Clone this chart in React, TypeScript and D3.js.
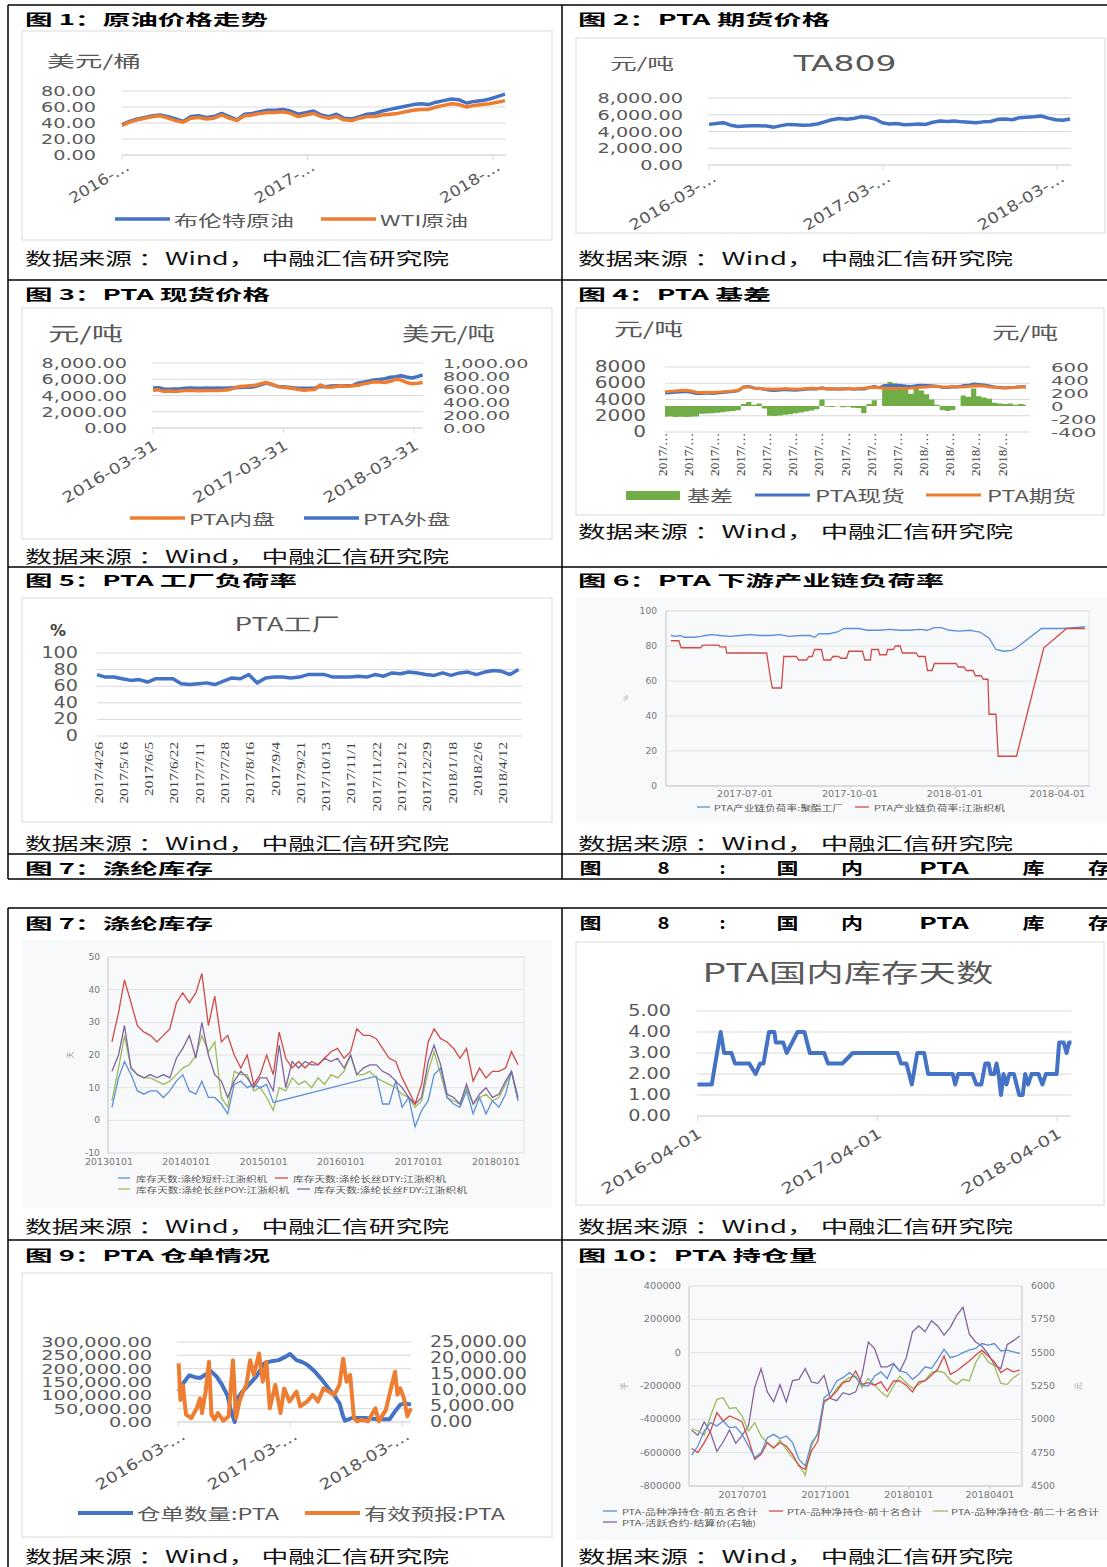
import * as d3 from "d3";

// ---------- look ----------
const CJK = "'Noto Sans CJK SC', 'Noto Sans', sans-serif";
const NUM = "'DejaVu Sans', 'Liberation Sans', sans-serif";
const SERIF = "'Liberation Serif', 'DejaVu Serif', serif";
const INK = "#595959";
const GRID = "#d9d9d9";
const BLUE = "#4472c4";
const ORANGE = "#ed7d31";
const GREEN = "#70ad47";
const W_BLUE = "#5b8fd6";
const W_RED = "#d04a48";
const W_GREEN = "#9bbb59";
const W_PURPLE = "#8064a2";
const W_BG = "#f8f9fb";
const SOURCE = "数据来源 ：Wind， 中融汇信研究院";

// ---------- fig 1: crude oil (semi-monthly, 2016-03-31 .. 2018-04-24) ----------
const brent = [38, 42, 45, 47, 49, 50, 48, 45, 42, 48, 49, 47, 48, 52, 48, 44, 51, 52, 54, 56, 56, 57, 55, 51, 53, 55, 50, 48, 51, 46, 45, 48, 51, 52, 55, 57, 59, 61, 63, 64, 63, 66, 68, 70, 69, 65, 67, 68, 70, 73, 76];
const wti = [37, 41, 44, 46, 48, 49, 46, 43, 41, 46, 47, 45, 46, 50, 46, 43, 49, 50, 52, 53, 53, 54, 52, 48, 50, 52, 48, 46, 48, 44, 43, 46, 48, 48, 50, 51, 52, 54, 56, 57, 57, 60, 62, 64, 63, 60, 62, 63, 64, 66, 68];
const oilTicks = ["2016-03-31", "2017-03-31", "2018-03-31"];
const oilTickLabels = ["2016-…", "2017-…", "2018-…"];

// ---------- fig 2: TA809 ----------
const ta809 = [4850, 4950, 5050, 4750, 4600, 4650, 4700, 4700, 4650, 4520, 4700, 4850, 4800, 4750, 4780, 4900, 5150, 5400, 5550, 5450, 5550, 5750, 5700, 5500, 5050, 4900, 4950, 4800, 4850, 4900, 4850, 5100, 5250, 5200, 5250, 5150, 5100, 5050, 5150, 5200, 5450, 5500, 5400, 5650, 5700, 5750, 5850, 5600, 5400, 5350, 5500];
const futTickLabels = ["2016-03-…", "2017-03-…", "2018-03-…"];

// ---------- fig 3: PTA spot ----------
const spotInner = [4650, 4700, 4500, 4550, 4500, 4550, 4600, 4650, 4600, 4600, 4620, 4600, 4620, 4650, 4700, 4900, 5100, 5150, 5200, 5250, 5450, 5600, 5400, 5150, 5000, 4950, 4850, 4750, 4650, 4700, 4750, 5300, 5050, 5000, 5100, 5200, 5150, 5200, 5250, 5450, 5550, 5700, 5650, 5600, 5750, 6000, 5900, 5600, 5450, 5500, 5600];
const spotOuter = [615, 620, 600, 595, 600, 605, 612, 615, 610, 612, 615, 612, 615, 612, 615, 618, 622, 625, 628, 640, 665, 690, 670, 640, 635, 628, 618, 612, 610, 612, 615, 640, 635, 645, 650, 648, 650, 652, 690, 705, 720, 740, 745, 760, 780, 790, 805, 785, 770, 790, 815];
const spotTickLabels = ["2016-03-31", "2017-03-31", "2018-03-31"];

// ---------- fig 4: PTA basis ----------
const basisLabels = ["2017/…", "2017/…", "2017/…", "2017/…", "2017/…", "2017/…", "2017/…", "2017/…", "2017/…", "2017/…", "2018/…", "2018/…", "2018/…", "2018/…"];
const basis = [-165, -160, -170, -165, -170, -165, -160, -120, -115, -110, -105, -95, -85, -75, -65, 30, 60, 20, 40, -40, -150, -155, -145, -135, -125, -110, -100, -85, -70, -50, 100, -10, -15, -5, -20, -10, -25, -30, -110, 30, 90, 0, 330, 370, 350, 340, 300, 190, 260, 240, 180, 100, 20, -60, -75, -60, 0, 160, 140, 270, 150, 130, 110, 50, 40, 30, 40, 20, 30, 20];
const ptaSpot = [4790, 4840, 4880, 4935, 4980, 4885, 4740, 4730, 4785, 4740, 4795, 4855, 4915, 4975, 5085, 5530, 5610, 5420, 5390, 5260, 5150, 5095, 5155, 5215, 5175, 5140, 5200, 5265, 5330, 5300, 5450, 5290, 5335, 5295, 5280, 5340, 5275, 5320, 5290, 5480, 5590, 5450, 5730, 5720, 5700, 5740, 5650, 5590, 5710, 5740, 5730, 5700, 5620, 5490, 5475, 5540, 5550, 5710, 5740, 5920, 5850, 5780, 5660, 5550, 5490, 5430, 5490, 5520, 5580, 5570];
const ptaFutures = [4950, 5000, 5050, 5100, 5150, 5050, 4900, 4850, 4900, 4850, 4900, 4950, 5000, 5050, 5150, 5500, 5550, 5400, 5350, 5300, 5300, 5250, 5300, 5350, 5300, 5250, 5300, 5350, 5400, 5350, 5350, 5300, 5350, 5300, 5300, 5350, 5300, 5350, 5400, 5450, 5500, 5450, 5400, 5350, 5350, 5400, 5350, 5400, 5450, 5500, 5550, 5600, 5600, 5550, 5550, 5600, 5550, 5550, 5600, 5650, 5700, 5650, 5550, 5500, 5450, 5400, 5450, 5500, 5550, 5550];

// ---------- fig 5: PTA factory load ----------
const loadLabels = ["2017/4/26", "2017/5/16", "2017/6/5", "2017/6/22", "2017/7/11", "2017/7/28", "2017/8/16", "2017/9/4", "2017/9/21", "2017/10/13", "2017/11/1", "2017/11/22", "2017/12/12", "2017/12/29", "2018/1/18", "2018/2/6", "2018/4/12"];
const factoryLoad = [74, 71, 71, 69, 67, 68, 65, 69, 69, 69, 63, 62, 63, 64, 62, 66, 70, 69, 74, 64, 70, 71, 71, 70, 71, 74, 74, 74, 71, 71, 71, 72, 71, 74, 72, 76, 75, 77, 76, 74, 73, 76, 73, 76, 77, 74, 77, 79, 78, 74, 80];

// ---------- fig 6: downstream load ----------
const polyDates = ["2017-04-27", "2017-05-01", "2017-05-05", "2017-05-09", "2017-05-18", "2017-05-23", "2017-05-27", "2017-06-02", "2017-06-09", "2017-06-18", "2017-06-27", "2017-07-05", "2017-07-14", "2017-07-23", "2017-07-31", "2017-08-09", "2017-08-18", "2017-08-27", "2017-08-31", "2017-09-04", "2017-09-13", "2017-09-20", "2017-09-26", "2017-10-09", "2017-10-16", "2017-10-27", "2017-11-05", "2017-11-13", "2017-11-22", "2017-12-01", "2017-12-08", "2017-12-14", "2017-12-20", "2017-12-27", "2018-01-05", "2018-01-14", "2018-01-18", "2018-01-23", "2018-01-31", "2018-02-06", "2018-02-13", "2018-02-20", "2018-02-24", "2018-03-18", "2018-04-07", "2018-04-16", "2018-04-25"];
const polyLoad = [86, 85.5, 86, 85, 85, 85.5, 86, 86.5, 86, 85.5, 86, 86.5, 86, 86, 86.5, 85.5, 86, 86, 85, 87, 87, 88, 90, 90, 89, 89, 89.5, 89, 89, 89.5, 89, 90.5, 90.5, 89, 88.5, 89, 88.5, 88, 84.5, 78, 77, 77.5, 79, 90, 90, 90.5, 91];
const weaveDates = ["2017-04-27", "2017-05-04", "2017-05-06", "2017-05-23", "2017-05-25", "2017-06-08", "2017-06-09", "2017-06-14", "2017-06-15", "2017-07-20", "2017-07-23", "2017-07-25", "2017-08-02", "2017-08-04", "2017-08-15", "2017-08-17", "2017-08-24", "2017-08-26", "2017-08-29", "2017-08-31", "2017-09-06", "2017-09-08", "2017-09-14", "2017-09-16", "2017-09-21", "2017-09-23", "2017-09-28", "2017-09-30", "2017-10-12", "2017-10-14", "2017-10-19", "2017-10-20", "2017-10-26", "2017-10-27", "2017-11-02", "2017-11-03", "2017-11-08", "2017-11-10", "2017-11-14", "2017-11-16", "2017-11-28", "2017-11-30", "2017-12-06", "2017-12-08", "2017-12-12", "2017-12-14", "2018-01-02", "2018-01-04", "2018-01-09", "2018-01-11", "2018-01-17", "2018-01-19", "2018-01-24", "2018-01-26", "2018-01-30", "2018-01-31", "2018-02-06", "2018-02-08", "2018-02-24", "2018-03-20", "2018-04-09", "2018-04-25"];
const weaveLoad = [83, 83, 79, 79, 80.5, 80.5, 79.5, 79.5, 76, 76, 63, 56, 56, 74, 74, 72, 72, 74, 74, 78, 78, 72, 72, 74, 74, 73, 73, 77, 77, 72, 72, 78, 78, 75, 75, 78, 78, 80, 80, 76, 76, 74, 74, 66, 66, 70, 70, 68, 68, 66, 66, 63, 63, 61, 61, 41, 41, 17, 17, 79, 90, 90];
const loadTicks = ["2017-07-01", "2017-10-01", "2018-01-01", "2018-04-01"];

// ---------- fig 7: polyester stock days (monthly from 2013-01) ----------
const stapleDays = [4, 13, 18, 14, 9, 8, 9, 9, 7, 9, 12, 14, 9, 8, 12, 7, 7, 5, 2, 11, 12, 10, 11, 10, 11, 5.5, null, null, null, null, null, null, null, null, null, null, null, null, null, null, null, 13.5, 5, 5, 12, 4, 7, -2, 3, 6, 14, 16, 7, 5, 4, 9, 2, 7, 2, 6, 4, 8, 15, 6];
const dtyDays = [24, 33, 43, 36, 29, 27, 26, 24, 26, 28, 36, 39, 36, 39, 45, 29, 38, 24, 26, 20, 16, 20, 11, 14, 20, 14, 27, 19, 16, 18, 16, 18, 17, 19, 21, 22, 19, 21, 28, 26, 26, 25, 22, 19, 18, 13, 9, 5, 11, 24, 28, 25, 24, 22, 19, 22, 12, 16, 13, 15, 15, 16, 21, 17];
const poyDays = [6, 16, 26, 16, 14, 13, 13, 12, 11, 12, 14, 16, 17, 20, 26, 21, 24, 7, 4, 15, 14, 14, 9, 10, 7, 3, 10, 9, 13, 11, 12, 10, 13, 11, 14, 13, 15, 20, 14, 14, 15, 13, 12, 11, 10, 8, 7, 4, 6, 15, 21, 14, 7, 6, 5, 10, 5, 7, 8, 6, 7, 11, 15, 6];
const fdyDays = [15, 20, 29, 16, 14, 13, 14, 13, 14, 13, 19, 22, 26, 19, 30, 20, 14, 12, 7, 12, 15, 13, 10, 13, 13, 9, 23, 10, 18, 16, 18, 17, 17, 19, 18, 19, 16, 20, 14, 16, 17, 17, 15, 14, 12, 10, 7, 5, 7, 18, 23, 17, 8, 7, 5, 11, 5, 8, 10, 7, 8, 12, 15, 7];
const stockYears = ["20130101", "20140101", "20150101", "20160101", "20170101", "20180101"];
const stockNames = ["库存天数:涤纶短纤:江浙织机", "库存天数:涤纶长丝DTY:江浙织机", "库存天数:涤纶长丝POY:江浙织机", "库存天数:涤纶长丝FDY:江浙织机"];

// ---------- fig 8: PTA stock days ----------
const ptaStockDates = ["2016-04-01", "2016-04-30", "2016-05-07", "2016-05-18", "2016-05-25", "2016-06-09", "2016-06-16", "2016-07-15", "2016-07-28", "2016-08-06", "2016-08-13", "2016-08-24", "2016-09-04", "2016-09-07", "2016-09-22", "2016-09-29", "2016-10-10", "2016-10-21", "2016-11-04", "2016-11-15", "2016-12-14", "2016-12-22", "2017-01-20", "2017-02-10", "2017-05-12", "2017-05-19", "2017-05-30", "2017-06-10", "2017-06-21", "2017-07-05", "2017-07-13", "2017-09-01", "2017-09-06", "2017-09-12", "2017-10-11", "2017-10-19", "2017-10-29", "2017-11-06", "2017-11-13", "2017-11-17", "2017-11-24", "2017-11-29", "2017-12-03", "2017-12-08", "2017-12-13", "2017-12-19", "2017-12-25", "2018-01-03", "2018-01-14", "2018-01-21", "2018-01-26", "2018-02-01", "2018-02-08", "2018-02-22", "2018-03-02", "2018-03-09", "2018-03-31", "2018-04-05", "2018-04-14", "2018-04-20", "2018-04-25", "2018-04-30"];
const ptaStockDays = [1.5, 1.5, 2.5, 4, 3, 3, 2.5, 2.5, 2, 2.5, 2.5, 4, 4, 3.5, 3.5, 3, 3.5, 4, 4, 3, 3, 2.5, 2.5, 3, 3, 2.5, 2.5, 1.5, 3, 3, 2, 2, 1.5, 2, 2, 1.5, 1.5, 2.5, 2.5, 2, 2, 2.5, 2, 1, 2, 1.5, 2, 2, 1, 1, 2, 1.5, 2, 2, 1.5, 2, 2, 3.5, 3.5, 3, 3.5, 3.5];
const stockTicks = ["2016-04-01", "2017-04-01", "2018-04-01"];

// ---------- fig 9: warrants ----------
const warrantDates = ["2016-04-02", "2016-04-20", "2016-05-07", "2016-05-25", "2016-06-11", "2016-06-29", "2016-07-17", "2016-08-04", "2016-08-21", "2016-09-08", "2016-09-20", "2016-10-02", "2016-10-06", "2016-10-24", "2016-11-21", "2016-12-14", "2017-01-06", "2017-01-30", "2017-02-22", "2017-03-17", "2017-03-31", "2017-04-21", "2017-05-09", "2017-05-26", "2017-06-19", "2017-07-12", "2017-08-04", "2017-08-22", "2017-09-08", "2017-09-20", "2017-09-26", "2017-10-19", "2017-11-29", "2018-01-14", "2018-02-18", "2018-03-08", "2018-03-25", "2018-04-11", "2018-04-29"];
const warrantQty = [114000, 150000, 175000, 168000, 165000, 178000, 190000, 170000, 140000, 100000, 40000, 0, 80000, 110000, 145000, 175000, 220000, 228000, 232000, 245000, 255000, 232000, 225000, 215000, 190000, 160000, 125000, 100000, 70000, 20000, 5000, 15000, 15000, 10000, 10000, 40000, 65000, 70000, 65000];
const forecastDates = ["2016-04-02", "2016-04-08", "2016-04-16", "2016-04-26", "2016-05-13", "2016-05-31", "2016-06-11", "2016-06-17", "2016-06-29", "2016-07-10", "2016-07-18", "2016-07-28", "2016-08-08", "2016-08-26", "2016-09-12", "2016-09-26", "2016-10-06", "2016-10-17", "2016-10-29", "2016-11-09", "2016-11-21", "2016-12-03", "2016-12-20", "2017-01-01", "2017-01-13", "2017-01-24", "2017-02-11", "2017-02-28", "2017-03-12", "2017-03-29", "2017-04-21", "2017-05-03", "2017-05-26", "2017-06-13", "2017-06-30", "2017-07-18", "2017-08-04", "2017-08-22", "2017-09-08", "2017-09-20", "2017-10-01", "2017-10-13", "2017-10-25", "2017-11-05", "2017-11-17", "2017-12-10", "2018-01-03", "2018-01-14", "2018-02-06", "2018-02-24", "2018-03-08", "2018-03-16", "2018-03-25", "2018-04-06", "2018-04-17", "2018-04-29"];
const forecastQty = [18300, 6900, 11500, 2300, 1200, 4300, 7400, 2800, 9500, 18800, 2300, 700, 2800, 400, 1800, 19300, 1200, 6400, 9500, 11600, 19300, 14700, 21400, 12600, 18800, 4300, 11600, 2800, 10500, 6400, 9500, 4900, 6400, 8500, 6400, 10500, 9500, 8500, 11600, 19800, 12600, 14700, 1200, 200, 700, 200, 4300, 200, 3800, 11000, 15700, 8500, 10500, 7400, 1800, 4300];

// ---------- fig 10: net positions (weekly from 2017-05-05) ----------
const top5Net = [-615000, -560000, -470000, -420000, -440000, -410000, -450000, -445000, -490000, -560000, -630000, -600000, -510000, -490000, -515000, -500000, -540000, -640000, -680000, -540000, -490000, -270000, -240000, -170000, -150000, -120000, -150000, -195000, -200000, -140000, -115000, -155000, -70000, -110000, -120000, -160000, -130000, -85000, -95000, -40000, 20000, -30000, -20000, 0, 15000, 25000, 55000, 45000, 55000, 10000, 15000, 5000, -5000];
const top10Net = [-575000, -600000, -540000, -470000, -360000, -410000, -380000, -395000, -415000, -520000, -640000, -610000, -540000, -570000, -540000, -560000, -610000, -680000, -700000, -590000, -530000, -290000, -270000, -230000, -180000, -170000, -110000, -190000, -180000, -195000, -175000, -230000, -170000, -170000, -195000, -235000, -175000, -170000, -135000, -100000, -20000, -130000, -110000, -80000, -50000, -15000, 15000, -20000, -55000, -120000, -95000, -115000, -105000];
const top20Net = [-455000, -470000, -495000, -380000, -280000, -270000, -335000, -330000, -380000, -470000, -420000, -500000, -540000, -575000, -525000, -580000, -630000, -670000, -735000, -560000, -480000, -300000, -270000, -215000, -175000, -150000, -140000, -210000, -155000, -195000, -235000, -265000, -200000, -140000, -180000, -215000, -190000, -165000, -120000, -110000, -120000, -165000, -190000, -160000, -170000, -60000, 0, -55000, -80000, -185000, -190000, -150000, -125000];
const settlePrice = [4918, 4880, 4980, 4900, 4760, 4830, 4920, 4820, 4880, 4950, 5240, 5380, 5206, 5131, 5260, 5131, 5290, 5300, 5380, 5280, 5270, 5330, 5156, 5140, 5200, 5185, 5206, 5330, 5580, 5530, 5394, 5394, 5420, 5360, 5460, 5657, 5700, 5657, 5740, 5700, 5632, 5690, 5780, 5840, 5640, 5580, 5550, 5490, 5407, 5380, 5560, 5590, 5625];
const positionTicks = ["20170701", "20171001", "20180101", "20180401"];

// ---------- helpers ----------
const parse = d3.timeParse("%Y-%m-%d");
const day = (s: string) => parse(s) as Date;
const spread = (a: string, b: string, n: number) => {
  const t0 = +day(a), t1 = +day(b);
  return d3.range(n).map((i) => new Date(t0 + ((t1 - t0) * i) / (n - 1)));
};
const units = (t: string) =>
  [...t].reduce((s, c) => s + (/[0-9A-Za-z]/.test(c) ? 1 : c === "-" ? 0.6 : c === "…" ? 1 : 0.5), 0);
const f2 = d3.format(",.2f");

function T({ x, y, t, size = 14, w, anchor = "start", fill = INK, bold = false, font = NUM, rot = 0 }: any) {
  return (
    <text x={x} y={y} fontSize={size} fill={fill} fontFamily={font} fontWeight={bold ? 700 : 400}
      textAnchor={anchor} dominantBaseline="central"
      textLength={w} lengthAdjust={w ? "spacingAndGlyphs" : undefined}
      transform={rot ? `rotate(${rot} ${x} ${y})` : undefined}>{t}</text>
  );
}
const Num = ({ x, y, t, anchor = "end", size = 15, cw = 12.2, rot = 0, fill = INK, font = NUM }: any) =>
  <T x={x} y={y} t={t} anchor={anchor} size={size} w={units(t) * cw} rot={rot} fill={fill} font={font} />;
const Title = ({ x, y, t, w }: any) => <T x={x} y={y} t={t} size={15} w={w} bold font={CJK} fill="#000" />;
const Source = ({ x, y, w }: any) => <T x={x} y={y} t={SOURCE} size={17} w={w} font={CJK} fill="#111" />;
const Key = ({ x, y, len = 55, color, sw = 3.5, label, w, size = 15, gap = 4 }: any) => (
  <g>
    <line x1={x} x2={x + len} y1={y} y2={y} stroke={color} strokeWidth={sw} />
    <T x={x + len + gap} y={y} t={label} size={size} w={w} font={CJK} />
  </g>
);

function DateAxis({ x, y0, ticks, labels, dx = 4, dy = 14, cw = 12 }: any) {
  const [r0, r1] = x.range();
  return (
    <g>
      <line x1={r0} x2={r1} y1={y0} y2={y0} stroke={GRID} />
      {ticks.map((t: string, i: number) => {
        const px = x(day(t));
        return (
          <g key={t}>
            <line x1={px} x2={px} y1={y0} y2={y0 + 5} stroke={GRID} />
            <Num x={px + dx} y={y0 + dy} t={labels[i]} rot={-31} cw={cw} />
          </g>
        );
      })}
    </g>
  );
}

// ---------- panels ----------
function Panel1() {
  const x = d3.scaleTime().domain([day("2016-03-31"), day("2018-04-26")]).range([122, 506]);
  const y = d3.scaleLinear().domain([0, 80]).range([155, 91]);
  const dates = spread("2016-03-31", "2018-04-24", brent.length);
  const line = d3.line<number>().x((_, i) => x(dates[i])).y((d) => y(d));
  return (
    <g>
      <Title x={25} y={18} t="图 1：原油价格走势" w={243} />
      <rect x={22} y={31} width={530} height={209} fill="none" stroke={GRID} />
      <T x={47} y={60} t="美元/桶" size={16} w={94} font={CJK} />
      {[0, 20, 40, 60, 80].map((v) => (
        <g key={v}>
          <line x1={122} x2={506} y1={y(v)} y2={y(v)} stroke={GRID} />
          <Num x={96} y={y(v)} t={f2(v)} size={14} />
        </g>
      ))}
      <DateAxis x={x} y0={155} ticks={oilTicks} labels={oilTickLabels} dx={6} dy={10} />
      <path d={line(brent) || ""} fill="none" stroke={BLUE} strokeWidth={3.5} strokeLinejoin="round" />
      <path d={line(wti) || ""} fill="none" stroke={ORANGE} strokeWidth={3.5} strokeLinejoin="round" />
      <Key x={115} y={219} color={BLUE} label="布伦特原油" w={120} />
      <Key x={321} y={219} color={ORANGE} label="WTI原油" w={88} />
      <Source x={25} y={257} w={424} />
    </g>
  );
}

function Panel2() {
  const x = d3.scaleTime().domain([day("2016-03-31"), day("2018-04-29")]).range([709, 1071]);
  const y = d3.scaleLinear().domain([0, 8000]).range([165, 98]);
  const dates = spread("2016-03-31", "2018-04-27", ta809.length);
  const line = d3.line<number>().x((_, i) => x(dates[i])).y((d) => y(d));
  return (
    <g>
      <Title x={578} y={18} t="图 2：PTA 期货价格" w={252} />
      <rect x={576} y={38} width={529} height={195} fill="none" stroke={GRID} />
      <T x={610} y={62} t="元/吨" size={15} w={64} font={CJK} />
      <T x={845} y={63} t="TA809" size={22} w={103} anchor="middle" />
      {[0, 2000, 4000, 6000, 8000].map((v) => (
        <g key={v}>
          <line x1={708} x2={1071} y1={y(v)} y2={y(v)} stroke={GRID} />
          <Num x={683} y={y(v)} t={f2(v)} size={14} />
        </g>
      ))}
      <DateAxis x={x} y0={165} ticks={oilTicks} labels={futTickLabels} dx={6} dy={11} />
      <path d={line(ta809) || ""} fill="none" stroke={BLUE} strokeWidth={3.5} strokeLinejoin="round" />
      <Source x={578} y={257} w={435} />
    </g>
  );
}

function Panel3() {
  const x = d3.scaleTime().domain([day("2016-03-31"), day("2018-04-25")]).range([153, 423]);
  const yl = d3.scaleLinear().domain([0, 8000]).range([428, 363]);
  const yr = d3.scaleLinear().domain([0, 1000]).range([428, 363]);
  const dates = spread("2016-03-31", "2018-04-24", spotInner.length);
  const lineL = d3.line<number>().x((_, i) => x(dates[i])).y((d) => yl(d));
  const lineR = d3.line<number>().x((_, i) => x(dates[i])).y((d) => yr(d));
  return (
    <g>
      <Title x={25} y={293} t="图 3：PTA 现货价格" w={245} />
      <rect x={22} y={308} width={530} height={231} fill="none" stroke={GRID} />
      <T x={48} y={332} t="元/吨" size={19} w={75} font={CJK} />
      <T x={402} y={332} t="美元/吨" size={19} w={93} font={CJK} />
      {[0, 2000, 4000, 6000, 8000].map((v) => (
        <g key={v}>
          <line x1={152} x2={423} y1={yl(v)} y2={yl(v)} stroke={GRID} />
          <Num x={127} y={yl(v)} t={f2(v)} size={14} />
        </g>
      ))}
      {[0, 200, 400, 600, 800, 1000].map((v) => (
        <Num key={v} x={443} y={yr(v)} t={f2(v)} anchor="start" size={13} />
      ))}
      <DateAxis x={x} y0={428} ticks={oilTicks} labels={spotTickLabels} dx={3} dy={16} cw={11.7} />
      <path d={lineR(spotOuter) || ""} fill="none" stroke={BLUE} strokeWidth={3.5} strokeLinejoin="round" />
      <path d={lineL(spotInner) || ""} fill="none" stroke={ORANGE} strokeWidth={3.5} strokeLinejoin="round" />
      <Key x={130} y={518} color={ORANGE} label="PTA内盘" w={86} />
      <Key x={304} y={518} color={BLUE} label="PTA外盘" w={87} />
      <Source x={25} y={555} w={424} />
    </g>
  );
}

function Panel4() {
  const x = d3.scaleLinear().domain([0, basis.length - 1]).range([665, 1026]);
  const yl = d3.scaleLinear().domain([0, 8000]).range([432, 367]);
  const yr = d3.scaleLinear().domain([-400, 600]).range([432, 367]);
  const area = d3.area<number>().x((_, i) => x(i)).y0(yr(0)).y1((d) => yr(d)).curve(d3.curveStep);
  const line = d3.line<number>().x((_, i) => x(i)).y((d) => yl(d));
  return (
    <g>
      <Title x={578} y={293} t="图 4：PTA 基差" w={193} />
      <rect x={576} y={308} width={528} height={207} fill="none" stroke={GRID} />
      <T x={614} y={328} t="元/吨" size={18} w={69} font={CJK} />
      <T x={992} y={331} t="元/吨" size={17} w={66} font={CJK} />
      {[0, 2000, 4000, 6000, 8000].map((v) => (
        <g key={v}>
          <line x1={665} x2={1030} y1={yl(v)} y2={yl(v)} stroke={GRID} />
          <Num x={646} y={yl(v)} t={String(v)} cw={12.8} size={15} />
        </g>
      ))}
      {[-400, -200, 0, 200, 400, 600].map((v) => (
        <Num key={v} x={1051} y={yr(v)} t={String(v)} anchor="start" cw={12.6} size={13} />
      ))}
      <path d={area(basis) || ""} fill={GREEN} />
      <path d={line(ptaSpot) || ""} fill="none" stroke={BLUE} strokeWidth={3} strokeLinejoin="round" />
      <path d={line(ptaFutures) || ""} fill="none" stroke={ORANGE} strokeWidth={3} strokeLinejoin="round" />
      {basisLabels.map((t, k) => (
        <T key={k} x={x(k * 5) - 3} y={433} t={t} size={13} w={units(t) * 7.8} anchor="end" rot={-90} font={SERIF} fill="#404040" />
      ))}
      <rect x={626} y={491} width={54} height={9} fill={GREEN} />
      <T x={687} y={495} t="基差" size={16} w={46} font={CJK} />
      <Key x={755} y={495} color={BLUE} sw={3} label="PTA现货" w={90} size={16} gap={5} />
      <Key x={926} y={495} color={ORANGE} sw={3} label="PTA期货" w={89} size={16} gap={6} />
      <Source x={578} y={530} w={435} />
    </g>
  );
}

function Panel5() {
  const x = d3.scaleLinear().domain([0, factoryLoad.length - 1]).range([97, 518.5]);
  const y = d3.scaleLinear().domain([0, 100]).range([736, 653]);
  const line = d3.line<number>().x((_, i) => x(i)).y((d) => y(d));
  return (
    <g>
      <Title x={25} y={579} t="图 5：PTA 工厂负荷率" w={272} />
      <rect x={22} y={598} width={530} height={224} fill="none" stroke={GRID} />
      <T x={287} y={623} t="PTA工厂" size={18} w={105} anchor="middle" font={CJK} />
      <T x={50} y={631} t="%" size={15} w={16} fill="#404040" bold />
      {[0, 20, 40, 60, 80, 100].map((v) => (
        <g key={v}>
          <line x1={97} x2={522} y1={y(v)} y2={y(v)} stroke={GRID} />
          <Num x={78} y={y(v)} t={String(v)} size={15} />
        </g>
      ))}
      <path d={line(factoryLoad) || ""} fill="none" stroke={BLUE} strokeWidth={3.5} strokeLinejoin="round" />
      {loadLabels.map((t, k) => (
        <T key={t} x={x(k * 3) + 1} y={742} t={t} size={13} w={units(t) * 7.7} anchor="end" rot={-90} font={SERIF} fill="#404040" />
      ))}
      <Source x={25} y={842} w={424} />
    </g>
  );
}

function Panel6() {
  const x = d3.scaleTime().domain([day("2017-07-01"), day("2018-04-01")]).range([745, 1057.5]);
  const y = d3.scaleLinear().domain([0, 100]).range([786, 611]);
  const mk = (ds: string[], vs: number[]) => d3.line<number>().x((_, i) => x(day(ds[i]))).y((v) => y(v))(vs) || "";
  return (
    <g>
      <Title x={578} y={579} t="图 6：PTA 下游产业链负荷率" w={366} />
      <rect x={576} y={597} width={531} height={226} fill={W_BG} />
      <rect x={666} y={611} width={423} height={175} fill={W_BG} stroke="#e3e3e3" />
      {[0, 20, 40, 60, 80, 100].map((v) => (
        <g key={v}>
          <line x1={666} x2={1089} y1={y(v)} y2={y(v)} stroke="#e3e3e3" />
          <T x={657} y={y(v)} t={String(v)} size={8.5} w={units(String(v)) * 5.8} anchor="end" fill="#777" />
        </g>
      ))}
      <line x1={666} x2={666} y1={611} y2={786} stroke="#cfcfcf" />
      <line x1={666} x2={1089} y1={786} y2={786} stroke="#cfcfcf" />
      {loadTicks.map((t) => (
        <g key={t}>
          <line x1={x(day(t))} x2={x(day(t))} y1={786} y2={790} stroke="#cfcfcf" />
          <T x={x(day(t))} y={794} t={t} size={8.5} w={56} anchor="middle" fill="#777" />
        </g>
      ))}
      <T x={625} y={698} t="%" size={6} anchor="middle" rot={-90} fill="#999" />
      <path d={mk(polyDates, polyLoad)} fill="none" stroke={W_BLUE} strokeWidth={1.3} />
      <path d={mk(weaveDates, weaveLoad)} fill="none" stroke={W_RED} strokeWidth={1.3} />
      <Key x={697} y={807} len={13} sw={1.3} color={W_BLUE} label="PTA产业链负荷率:聚酯工厂" w={129} size={7.5} />
      <Key x={855} y={807} len={14} sw={1.3} color={W_RED} label="PTA产业链负荷率:江浙织机" w={131} size={7.5} gap={5} />
      <Source x={578} y={842} w={435} />
    </g>
  );
}

function Panel7() {
  const x = d3.scaleTime().domain([day("2013-01-01"), day("2018-01-01")]).range([109, 496]);
  const y = d3.scaleLinear().domain([-10, 50]).range([1153, 957]);
  const months = d3.range(dtyDays.length).map((m) => new Date(2013, m, 15));
  const mk = (vs: (number | null)[]) => {
    const pts = vs.map((v, i) => [months[i], v] as [Date, number | null]).filter((p) => p[1] !== null);
    return d3.line<[Date, number | null]>().x((p) => x(p[0])).y((p) => y(p[1] as number))(pts) || "";
  };
  const colors = [W_BLUE, W_RED, W_GREEN, W_PURPLE];
  return (
    <g>
      <Title x={25} y={922} t="图 7：涤纶库存" w={188} />
      <rect x={22} y={940} width={530} height={268} fill={W_BG} />
      <rect x={108} y={957} width={416} height={196} fill={W_BG} stroke="#e3e3e3" />
      {[-10, 0, 10, 20, 30, 40, 50].map((v) => (
        <g key={v}>
          <line x1={108} x2={524} y1={y(v)} y2={y(v)} stroke="#e3e3e3" />
          <T x={100} y={y(v)} t={String(v)} size={9} w={units(String(v)) * 5.8} anchor="end" fill="#777" />
        </g>
      ))}
      <line x1={108} x2={108} y1={957} y2={1153} stroke="#cfcfcf" />
      {stockYears.map((t) => {
        const px = x(d3.timeParse("%Y%m%d")(t) as Date);
        return <T key={t} x={px} y={1162} t={t} size={9} w={48} anchor="middle" fill="#777" />;
      })}
      <T x={70} y={1055} t="天" size={8} anchor="middle" rot={-90} fill="#999" />
      <path d={mk(poyDays)} fill="none" stroke={W_GREEN} strokeWidth={1.3} />
      <path d={mk(stapleDays)} fill="none" stroke={W_BLUE} strokeWidth={1.3} />
      <path d={mk(fdyDays)} fill="none" stroke={W_PURPLE} strokeWidth={1.3} />
      <path d={mk(dtyDays)} fill="none" stroke={W_RED} strokeWidth={1.3} />
      <Key x={118} y={1178} len={12} sw={1.3} color={colors[0]} label={stockNames[0]} w={131} size={7.5} gap={6} />
      <Key x={275} y={1178} len={13} sw={1.3} color={colors[1]} label={stockNames[1]} w={153} size={7.5} gap={5} />
      <Key x={118} y={1189} len={12} sw={1.3} color={colors[2]} label={stockNames[2]} w={153} size={7.5} gap={6} />
      <Key x={297} y={1189} len={13} sw={1.3} color={colors[3]} label={stockNames[3]} w={153} size={7.5} gap={4} />
      <Source x={25} y={1225} w={424} />
    </g>
  );
}

function Panel8() {
  const x = d3.scaleTime().domain([day("2016-04-01"), day("2018-04-29")]).range([697.5, 1071]);
  const y = d3.scaleLinear().domain([0, 5]).range([1116, 1011]);
  const line = d3.line<number>().x((_, i) => x(day(ptaStockDates[i]))).y((d) => y(d));
  return (
    <g>
      <rect x={576} y={942} width={528} height={263} fill="none" stroke={GRID} />
      <T x={848} y={971} t="PTA国内库存天数" size={25} w={291} anchor="middle" font={CJK} />
      {[0, 1, 2, 3, 4, 5].map((v) => (
        <g key={v}>
          <line x1={697} x2={1071} y1={y(v)} y2={y(v)} stroke={GRID} />
          <Num x={671} y={y(v)} t={f2(v)} size={15} />
        </g>
      ))}
      <DateAxis x={x} y0={1116} ticks={stockTicks} labels={stockTicks} dx={3} dy={16} cw={12.4} />
      <path d={line(ptaStockDays) || ""} fill="none" stroke={BLUE} strokeWidth={4} strokeLinejoin="round" />
      <Source x={578} y={1225} w={435} />
    </g>
  );
}

function Panel9() {
  const x = d3.scaleTime().domain([day("2016-03-31"), day("2018-04-29")]).range([178, 411]);
  const yl = d3.scaleLinear().domain([0, 300000]).range([1422, 1342]);
  const yr = d3.scaleLinear().domain([0, 25000]).range([1422, 1342]);
  const blue = d3.line<number>().x((_, i) => x(day(warrantDates[i]))).y((d) => yl(d));
  const orange = d3.line<number>().x((_, i) => x(day(forecastDates[i]))).y((d) => yr(d));
  return (
    <g>
      <Title x={25} y={1254} t="图 9：PTA 仓单情况" w={245} />
      <rect x={22} y={1273} width={530} height={264} fill="none" stroke={GRID} />
      {d3.range(0, 300001, 50000).map((v) => (
        <g key={v}>
          <line x1={177} x2={411} y1={yl(v)} y2={yl(v)} stroke={GRID} />
          <Num x={152} y={yl(v)} t={f2(v)} size={13.5} cw={12.3} />
        </g>
      ))}
      {d3.range(0, 25001, 5000).map((v) => (
        <Num key={v} x={430} y={yr(v)} t={f2(v)} anchor="start" size={15} cw={12.1} />
      ))}
      <DateAxis x={x} y0={1422} ticks={oilTicks} labels={futTickLabels} dx={6} dy={12} cw={12.4} />
      <path d={blue(warrantQty) || ""} fill="none" stroke={BLUE} strokeWidth={4} strokeLinejoin="round" />
      <path d={orange(forecastQty) || ""} fill="none" stroke={ORANGE} strokeWidth={4} strokeLinejoin="round" />
      <Key x={78} y={1513} color={BLUE} sw={4} label="仓单数量:PTA" w={142} size={16} />
      <Key x={305} y={1513} color={ORANGE} sw={4} label="有效预报:PTA" w={141} size={16} />
      <Source x={25} y={1555} w={424} />
    </g>
  );
}

function Panel10() {
  const x = d3.scaleTime().domain([day("2017-07-01"), day("2018-04-01")]).range([743, 990]);
  const yl = d3.scaleLinear().domain([-800000, 400000]).range([1486, 1286]);
  const yr = d3.scaleLinear().domain([4500, 6000]).range([1486, 1286]);
  const weeks = d3.range(settlePrice.length).map((k) => d3.timeDay.offset(day("2017-05-05"), 7 * k));
  const left = d3.line<number>().x((_, i) => x(weeks[i])).y((d) => yl(d));
  const right = d3.line<number>().x((_, i) => x(weeks[i])).y((d) => yr(d));
  const ymd = d3.timeParse("%Y%m%d");
  return (
    <g>
      <Title x={578} y={1254} t="图 10：PTA 持仓量" w={239} />
      <rect x={576} y={1268} width={531} height={272} fill={W_BG} />
      <rect x={689} y={1286} width={333} height={200} fill={W_BG} stroke="#e3e3e3" />
      {d3.range(-800000, 400001, 200000).map((v) => (
        <g key={v}>
          <line x1={689} x2={1022} y1={yl(v)} y2={yl(v)} stroke="#e3e3e3" />
          <T x={681} y={yl(v)} t={String(v)} size={9} w={units(String(v)) * 6.2} anchor="end" fill="#777" />
        </g>
      ))}
      {d3.range(4500, 6001, 250).map((v) => (
        <T key={v} x={1031} y={yr(v)} t={String(v)} size={9} w={24} anchor="start" fill="#777" />
      ))}
      <line x1={689} x2={689} y1={1286} y2={1486} stroke="#cfcfcf" />
      <line x1={1022} x2={1022} y1={1286} y2={1486} stroke="#cfcfcf" />
      <line x1={689} x2={1022} y1={1486} y2={1486} stroke="#cfcfcf" />
      {positionTicks.map((t) => {
        const px = x(ymd(t) as Date);
        return (
          <g key={t}>
            <line x1={px} x2={px} y1={1486} y2={1490} stroke="#cfcfcf" />
            <T x={px} y={1495} t={t} size={9} w={49} anchor="middle" fill="#777" />
          </g>
        );
      })}
      <T x={624} y={1386} t="手" size={8} anchor="middle" rot={-90} fill="#999" />
      <T x={1078} y={1386} t="元" size={8} anchor="middle" rot={-90} fill="#999" />
      <path d={right(settlePrice) || ""} fill="none" stroke={W_PURPLE} strokeWidth={1.3} />
      <path d={left(top20Net) || ""} fill="none" stroke={W_GREEN} strokeWidth={1.3} />
      <path d={left(top10Net) || ""} fill="none" stroke={W_RED} strokeWidth={1.3} />
      <path d={left(top5Net) || ""} fill="none" stroke={W_BLUE} strokeWidth={1.3} />
      <Key x={603} y={1511} len={14} sw={1.3} color={W_BLUE} label="PTA-品种净持仓-前五名合计" w={136} size={7.5} gap={5} />
      <Key x={769} y={1511} len={14} sw={1.3} color={W_RED} label="PTA-品种净持仓-前十名合计" w={135} size={7.5} gap={4} />
      <Key x={933} y={1511} len={15} sw={1.3} color={W_GREEN} label="PTA-品种净持仓-前二十名合计" w={148} size={7.5} gap={3} />
      <Key x={603} y={1522} len={14} sw={1.3} color={W_PURPLE} label="PTA-活跃合约-结算价(右轴)" w={134} size={7.5} gap={5} />
      <Source x={578} y={1555} w={435} />
    </g>
  );
}

function Fig8Heading({ y }: { y: number }) {
  const parts: [string, number, number][] = [["图", 590.5, 22], ["8", 663.5, 12], [":", 722.5, 6], ["国", 787.5, 22], ["内", 852, 22], ["PTA", 944, 50], ["库", 1033.5, 22], ["存", 1099, 22]];
  return (
    <g>
      {parts.map(([t, cx, w]) => (
        <T key={t} x={cx} y={y} t={t} size={16} w={w} anchor="middle" bold font={CJK} fill="#000" />
      ))}
    </g>
  );
}

function Tables() {
  const s = { stroke: "#000", strokeWidth: 1.5 };
  return (
    <g>
      <line x1={8} x2={1107} y1={5} y2={5} {...s} />
      {[280, 567, 854, 879].map((yy) => <line key={yy} x1={8} x2={1107} y1={yy} y2={yy} {...s} />)}
      <line x1={8} x2={8} y1={5} y2={879} {...s} />
      <line x1={562} x2={562} y1={5} y2={879} {...s} />
      <Title x={25} y={867} t="图 7：涤纶库存" w={188} />
      <Fig8Heading y={867} />
      <line x1={8} x2={1107} y1={908} y2={908} {...s} />
      <line x1={8} x2={1107} y1={1240} y2={1240} {...s} />
      <line x1={8} x2={8} y1={908} y2={1567} {...s} />
      <line x1={562} x2={562} y1={908} y2={1567} {...s} />
      <Fig8Heading y={922} />
    </g>
  );
}

export default function App() {
  return (
    <svg width={1107} height={1567} viewBox="0 0 1107 1567" style={{ position: "absolute", left: 0, top: 0, background: "#fff" }}>
      <rect width={1107} height={1567} fill="#fff" />
      <Panel1 />
      <Panel2 />
      <Panel3 />
      <Panel4 />
      <Panel5 />
      <Panel6 />
      <Panel7 />
      <Panel8 />
      <Panel9 />
      <Panel10 />
      <Tables />
    </svg>
  );
}
